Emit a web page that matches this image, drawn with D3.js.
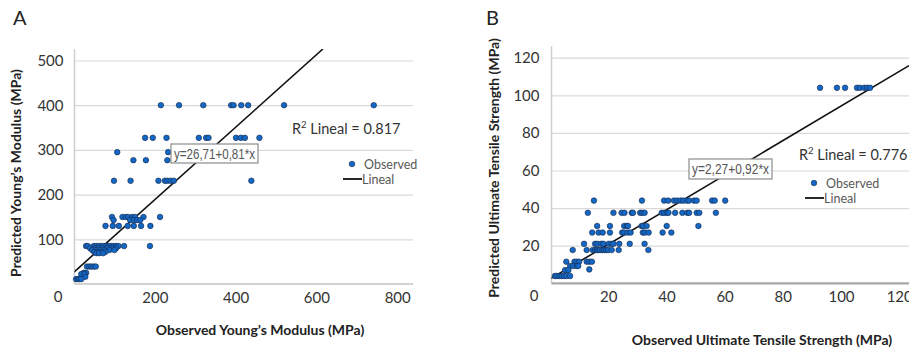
<!DOCTYPE html>
<html>
<head>
<meta charset="utf-8">
<script src="https://cdn.jsdelivr.net/npm/d3@7"></script>
<style>
  body { margin: 0; background: #fff; }
  svg { display: block; font-family: Lato, "Open Sans", sans-serif; }
</style>
</head>
<body>
<svg id="chart" width="909" height="352"></svg>
<script>
// Panel A: Young's modulus. Each predicted level holds the observed values plotted on it.
var aLevels = [400, 327, 295, 277, 231, 150, 143, 130, 85, 80, 76, 72, 69, 39, 25, 22, 16, 11];
var aObserved = [
  [215, 260, 320, 389, 395, 414, 431, 520, 742],
  [176, 195, 229, 309, 327, 333, 401, 413, 423, 459],
  [107, 233],
  [147, 178, 231],
  [99, 140, 209, 225, 231, 239, 247, 439],
  [94, 120, 128, 134, 144, 151, 172, 213],
  [98, 139, 148, 156, 164],
  [78, 96, 111, 133, 148, 166, 189],
  [30, 34, 49, 55, 61, 67, 73, 80, 86, 92, 98, 104, 110, 124, 188],
  [40, 52, 60, 70, 82, 95, 104],
  [45, 55, 65, 75, 88, 100],
  [50, 58, 68, 78],
  [55, 62, 72],
  [32, 38, 43, 49, 54],
  [24, 30],
  [18, 26],
  [28],
  [5, 10, 13, 18]
];
var aXTicks = [200, 400, 600, 800];
var aYTicks = [100, 200, 300, 400, 500];
var aFit = [26.71, 0.81];

// Panel B: ultimate tensile strength
var bLevels = [104, 44, 37.5, 30.5, 27, 21, 17.7, 11.5, 9.2, 7.4, 7, 3.9];
var bObserved = [
  [92.8, 98.6, 101.4, 105.5, 106.5, 108, 109, 110],
  [15.1, 31.6, 39.2, 40.6, 42.6, 43.7, 44.9, 45.8, 47, 47.8, 49.5, 50.4, 55.7, 56.6, 60.2],
  [13, 21.8, 24.6, 25.6, 28.1, 28.5, 31, 31.7, 32.5, 38.4, 39.2, 40.1, 40.7, 43, 45.5, 47.2, 47.8, 50.4, 51.3, 57],
  [16.2, 20.6, 25.5, 26.4, 26.8, 31.5, 32, 33.2, 40.1, 51],
  [14.5, 16.7, 18.1, 20.6, 24.8, 25.5, 26.7, 27.7, 31.9, 32.6, 33.9, 38.7, 41.7],
  [11.7, 15.5, 16.3, 17.6, 18.3, 20.2, 21.2, 21.8, 23.8, 27.4, 32.5],
  [7.8, 12.6, 14.7, 15.5, 16.1, 16.6, 17.2, 18, 18.6, 19.3, 20, 21.2, 23.6, 33.8],
  [5.6, 8.4, 9.2, 10, 12.6, 13.5, 14.4],
  [6.9, 8, 9.2, 9.7],
  [13.5],
  [5.2, 6.3],
  [1.7, 2.3, 3.2, 4, 4.8, 5.7, 6.9]
];
var bXTicks = [20, 40, 60, 80, 100, 120];
var bYTicks = [20, 40, 60, 80, 100, 120];
var bFit = [2.27, 0.92];

var svg = d3.select("#chart");

function drawPanel(p) {
  var x = d3.scaleLinear().domain(p.xDomain).range(p.xRange);
  var y = d3.scaleLinear().domain(p.yDomain).range(p.yRange);
  var g = svg.append("g");
  var left = p.xRange[0] + p.axisShift, right = p.plotRight, top = p.plotTop, bottom = y(0);

  // panel letter
  g.append("text").attr("x", p.letterX).attr("y", 25)
    .attr("font-size", 20).attr("fill", "#222").text(p.letter);

  // gridlines + y labels
  var yAxis = g.append("g")
    .attr("transform", "translate(" + left + ",0)")
    .call(d3.axisLeft(y).tickValues(p.yTicks).tickSizeInner(-(right - left)).tickSizeOuter(0).tickPadding(p.yPad));
  yAxis.select(".domain").remove();
  yAxis.selectAll(".tick line").attr("stroke", "#d9d9d9").attr("stroke-width", 1.2);
  yAxis.selectAll(".tick text").attr("font-size", 15).attr("fill", "#333").attr("font-family", "Lato, sans-serif");

  // x labels
  var xAxis = g.append("g")
    .attr("transform", "translate(0," + bottom + ")")
    .call(d3.axisBottom(x).tickValues(p.xTicks).tickSize(0).tickPadding(8));
  xAxis.select(".domain").remove();
  xAxis.selectAll(".tick text").attr("font-size", 15).attr("fill", "#333").attr("font-family", "Lato, sans-serif");

  // origin label
  g.append("text").attr("x", x(0) - 16).attr("y", bottom + 18)
    .attr("text-anchor", "middle").attr("font-size", 15).attr("fill", "#333").text("0");

  // axis lines
  g.append("line").attr("x1", left).attr("x2", left).attr("y1", top).attr("y2", bottom)
    .attr("stroke", "#cfcfcf").attr("stroke-width", 1.5);
  g.append("line").attr("x1", left).attr("x2", right).attr("y1", bottom).attr("y2", bottom)
    .attr("stroke", p.baseColor).attr("stroke-width", p.baseWidth);

  // regression line, clipped to plot area
  var clipId = "clip" + p.letter;
  svg.append("clipPath").attr("id", clipId).append("rect")
    .attr("x", left).attr("y", top).attr("width", right - left).attr("height", bottom - top);
  var x1 = Math.min((y.invert(top) - p.fit[0]) / p.fit[1], x.invert(right));
  g.append("line").attr("clip-path", "url(#" + clipId + ")")
    .attr("x1", x(0)).attr("y1", y(p.fit[0]))
    .attr("x2", x(x1)).attr("y2", y(p.fit[0] + p.fit[1] * x1))
    .attr("stroke", "#111").attr("stroke-width", 1.6);

  // points
  var pts = [];
  p.levels.forEach(function(lv, i) {
    p.observed[i].forEach(function(ox) { pts.push({ x: ox, y: lv }); });
  });
  g.append("g").selectAll("circle").data(pts).enter().append("circle")
    .attr("cx", function(d) { return x(d.x); })
    .attr("cy", function(d) { return y(d.y); })
    .attr("r", 2.8)
    .attr("fill", "#1467c4")
    .attr("stroke", "#14284a").attr("stroke-width", 0.6);

  // equation box
  var eb = p.eqBox;
  g.append("rect").attr("x", eb[0]).attr("y", eb[1]).attr("width", eb[2]).attr("height", eb[3])
    .attr("fill", "#fff").attr("stroke", "#8c8c8c").attr("stroke-width", 1.2);
  g.append("text").attr("x", eb[0] + 3).attr("y", eb[1] + eb[3] / 2 + 5)
    .attr("font-size", 14.5).attr("fill", "#555")
    .attr("font-family", "'Liberation Sans Narrow', 'Liberation Sans', sans-serif")
    .attr("textLength", eb[2] - 6).attr("lengthAdjust", "spacingAndGlyphs")
    .text(p.eqText);

  // R2 label
  var r2 = g.append("text").attr("x", p.r2Pos[0]).attr("y", p.r2Pos[1])
    .attr("font-size", 14.5).attr("fill", "#333");
  r2.append("tspan").text("R");
  r2.append("tspan").attr("font-size", 9.5).attr("dy", -6).text("2");
  r2.append("tspan").attr("dy", 6).text(" Lineal = " + p.r2);

  // legend
  var lg = p.legend;
  g.append("circle").attr("cx", lg[0] + 9).attr("cy", lg[1]).attr("r", 2.8)
    .attr("fill", "#1467c4").attr("stroke", "#14284a").attr("stroke-width", 0.6);
  g.append("text").attr("x", lg[0] + 21).attr("y", lg[1] + 5)
    .attr("font-size", 12.5).attr("fill", "#595959").text("Observed");
  g.append("line").attr("x1", lg[0]).attr("x2", lg[0] + 19).attr("y1", lg[1] + 15).attr("y2", lg[1] + 15)
    .attr("stroke", "#111").attr("stroke-width", 1.8);
  g.append("text").attr("x", lg[0] + 19).attr("y", lg[1] + 20)
    .attr("font-size", 12.5).attr("fill", "#595959").text("Lineal");

  // axis titles
  g.append("text").attr("x", p.xTitle[0]).attr("y", p.xTitle[1])
    .attr("text-anchor", "middle").attr("font-size", 14).attr("font-weight", "bold")
    .attr("fill", "#222").text(p.xLabel);
  g.append("text")
    .attr("transform", "translate(" + p.yTitle[0] + "," + p.yTitle[1] + ") rotate(-90)")
    .attr("text-anchor", "middle").attr("font-size", 14).attr("font-weight", "bold")
    .attr("fill", "#222").text(p.yLabel);
}

drawPanel({
  letter: "A", letterX: 13,
  levels: aLevels, observed: aObserved, xTicks: aXTicks, yTicks: aYTicks, fit: aFit,
  xDomain: [0, 800], xRange: [74, 397.2], axisShift: 0.5,
  yDomain: [0, 500], yRange: [284, 60.5],
  plotRight: 413, plotTop: 49, yPad: 11,
  baseColor: "#c4c4c4", baseWidth: 1.6,
  eqBox: [171, 144, 87, 19], eqText: "y=26,71+0,81*x",
  r2Pos: [292, 134], r2: "0.817",
  legend: [343, 164],
  xTitle: [260, 335], xLabel: "Observed Young\u2019s Modulus (MPa)",
  yTitle: [21, 173], yLabel: "Predicted Young\u2019s Modulus (MPa)"
});

drawPanel({
  letter: "B", letterX: 486,
  levels: bLevels, observed: bObserved, xTicks: bXTicks, yTicks: bYTicks, fit: bFit,
  xDomain: [0, 120], xRange: [550, 899.2], axisShift: 1.5,
  yDomain: [0, 120], yRange: [283.3, 57.7],
  plotRight: 909, plotTop: 46, yPad: 12,
  baseColor: "#a8a8a8", baseWidth: 2.2,
  eqBox: [689, 159, 83, 20], eqText: "y=2,27+0,92*x",
  r2Pos: [799, 160], r2: "0.776",
  legend: [805, 183],
  xTitle: [762, 345], xLabel: "Observed Ultimate Tensile Strength (MPa)",
  yTitle: [499, 168], yLabel: "Predicted Ultimate Tensile Strength (MPa)"
});
</script>
</body>
</html>
